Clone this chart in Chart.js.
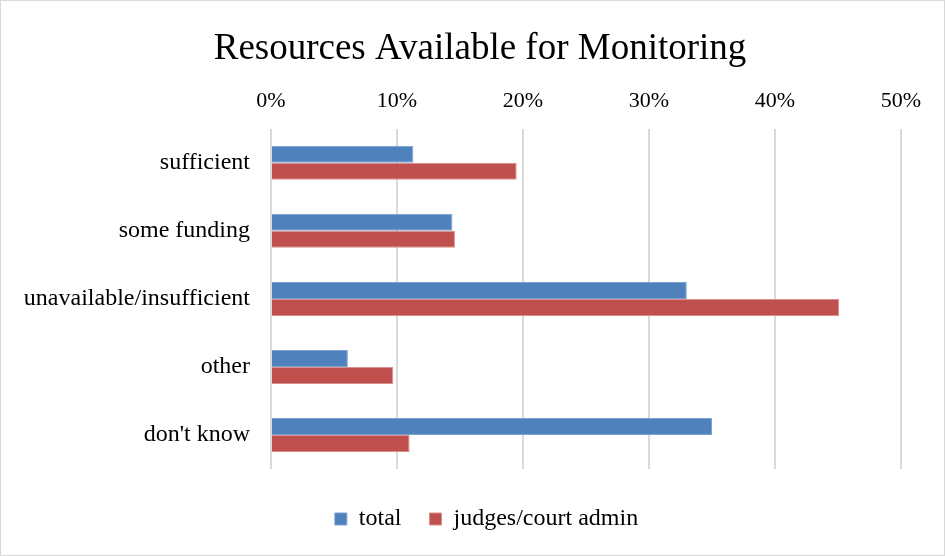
<!DOCTYPE html>
<html>
<head>
<meta charset="utf-8">
<script src="https://cdn.jsdelivr.net/npm/chart.js@4/dist/chart.umd.min.js"></script>
<style>
  html, body { margin: 0; padding: 0; background: #fff; }
  #wrap { width: 945px; height: 556px; }
</style>
</head>
<body>
<div id="wrap"><canvas id="chart" width="945" height="556"></canvas></div>
<script>
// ---- DATA ----
const categories = ["sufficient", "some funding", "unavailable/insufficient", "other", "don't know"];
const totalValues = [11.3, 14.4, 33.0, 6.1, 35.0];
const judgesValues = [19.5, 14.6, 45.1, 9.7, 11.0];
const seriesNames = ["total", "judges/court admin"];
const chartTitle = "Resources Available for Monitoring";

const FONT = "'Liberation Serif', 'Times New Roman', serif";

// white background + thin frame round the chart,
// and nudge title / legend so they sit where the original has them
const framePlugin = {
  id: "frame",
  afterLayout(chart) {
    const t = chart.titleBlock;
    if (t) { t.left = 15; t.right = chart.width; }
    const lg = chart.legend;
    if (lg) {
      lg.left += 36; lg.right += 36;
      lg.top += 10; lg.bottom += 10;
    }
  },
  beforeDraw(chart) {
    const ctx = chart.ctx;
    ctx.save();
    ctx.fillStyle = "#fff";
    ctx.fillRect(0, 0, chart.width, chart.height);
    ctx.strokeStyle = "#d9d9d9";
    ctx.lineWidth = 1;
    ctx.strokeRect(0.5, 0.5, chart.width - 1, chart.height - 1);
    ctx.restore();
  }
};

const ctx = document.getElementById("chart").getContext("2d");
new Chart(ctx, {
  type: "bar",
  data: {
    labels: categories,
    datasets: [
      {
        label: seriesNames[0],
        data: totalValues,
        backgroundColor: "#4f81bd",
        borderColor: "#7da2d1",
        borderWidth: 1
      },
      {
        label: seriesNames[1],
        data: judgesValues,
        backgroundColor: "#c0504d",
        borderColor: "#d98f8d",
        borderWidth: 1
      }
    ]
  },
  options: {
    indexAxis: "y",
    responsive: false,
    animation: false,
    categoryPercentage: 0.5,
    barPercentage: 1.0,
    layout: { padding: { left: 0, right: 44, top: 0, bottom: 25 } },
    scales: {
      x: {
        position: "top",
        min: 0,
        max: 50,
        ticks: {
          stepSize: 10,
          padding: 14,
          color: "#000",
          font: { family: FONT, size: 22 },
          callback: v => v + "%"
        },
        grid: { color: "#d9d9d9", lineWidth: 2, drawTicks: false },
        border: { display: false }
      },
      y: {
        ticks: {
          padding: 13,
          color: "#000",
          font: { family: FONT, size: 24 }
        },
        grid: { display: false },
        border: { display: false },
        afterFit(scale) { scale.width = 271; }
      }
    },
    plugins: {
      title: {
        display: true,
        text: chartTitle,
        color: "#000",
        font: { family: FONT, size: 37, weight: "normal" },
        padding: { top: 27, bottom: 3 }
      },
      legend: {
        position: "bottom",
        labels: {
          boxWidth: 12,
          boxHeight: 12,
          padding: 28,
          color: "#000",
          font: { family: FONT, size: 24 }
        }
      },
      tooltip: { enabled: false }
    }
  },
  plugins: [framePlugin]
});
</script>
</body>
</html>
